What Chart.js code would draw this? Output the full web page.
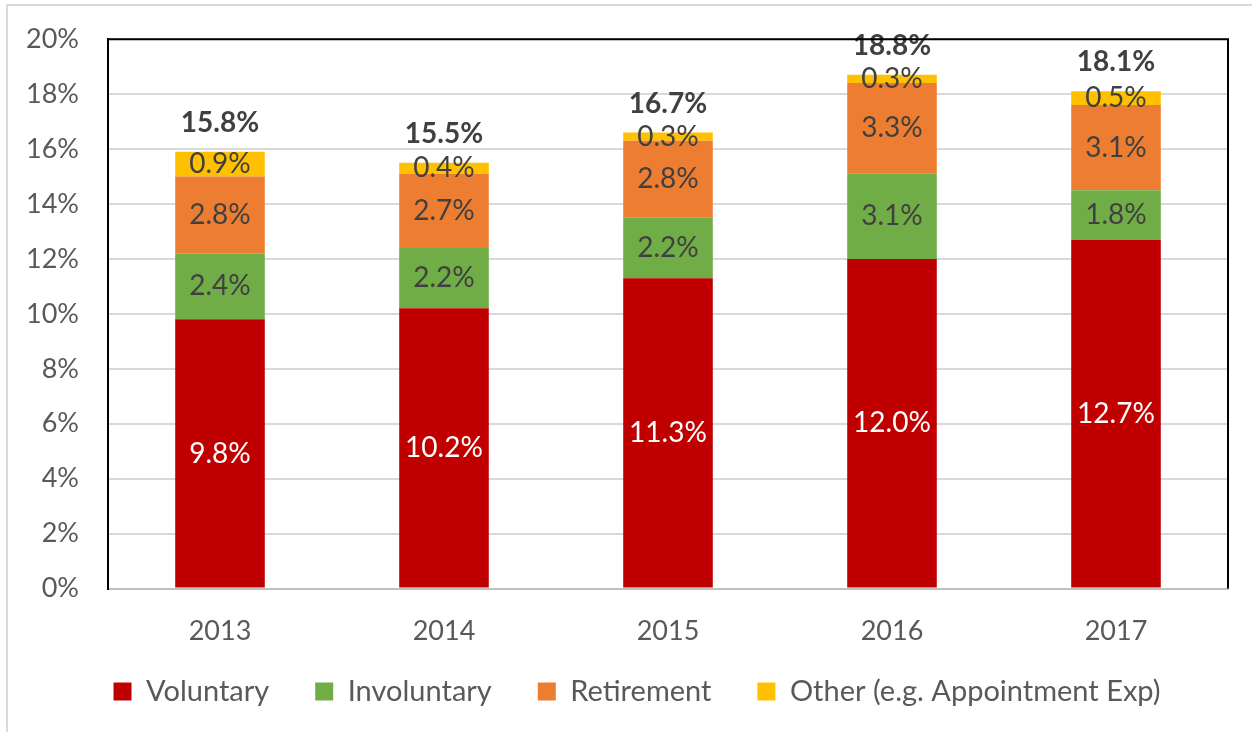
<!DOCTYPE html>
<html>
<head>
<meta charset="utf-8">
<script src="https://cdn.jsdelivr.net/npm/chart.js@4/dist/chart.umd.min.js"></script>
<style>
  html, body { margin: 0; padding: 0; background: #fff; }
  #wrap { width: 1252px; height: 732px; }
</style>
</head>
<body>
<div id="wrap"><canvas id="attritionChart" width="1252" height="732"></canvas></div>
<script>
const years = ['2013', '2014', '2015', '2016', '2017'];

const voluntary = [9.8, 10.2, 11.3, 12.0, 12.7];
const involuntary = [2.4, 2.2, 2.2, 3.1, 1.8];
const retirement = [2.8, 2.7, 2.8, 3.3, 3.1];
const other = [0.9, 0.4, 0.3, 0.3, 0.5];
const totals = [15.8, 15.5, 16.7, 18.8, 18.1];

const yTicks = [0, 2, 4, 6, 8, 10, 12, 14, 16, 18, 20];

const FONT = 'Lato, "Open Sans", sans-serif';

// segment labels + bold totals on top
const barLabels = {
  id: 'barLabels',
  afterDatasetsDraw(chart) {
    const ctx = chart.ctx;
    ctx.save();
    ctx.textAlign = 'center';
    ctx.textBaseline = 'middle';
    chart.data.datasets.forEach((ds, i) => {
      const meta = chart.getDatasetMeta(i);
      meta.data.forEach((bar, j) => {
        const mid = (bar.y + bar.base) / 2;
        ctx.font = '28px ' + FONT;
        ctx.fillStyle = i === 0 ? '#ffffff' : '#404040';
        ctx.fillText(ds.data[j].toFixed(1) + '%', bar.x, mid);
      });
    });
    const topMeta = chart.getDatasetMeta(chart.data.datasets.length - 1);
    topMeta.data.forEach((bar, j) => {
      ctx.font = 'bold 28px ' + FONT;
      ctx.fillStyle = '#404040';
      ctx.fillText(totals[j].toFixed(1) + '%', bar.x, bar.y - 29);
    });
    ctx.restore();
  }
};

// grey outer border, black frame round the plot, legend nudged into place
const frame = {
  id: 'frame',
  afterLayout(chart) {
    const lg = chart.legend;
    if (lg && !lg._nudged) {
      const draw = lg.draw.bind(lg);
      lg.draw = function () {
        chart.ctx.save();
        chart.ctx.translate(18, -34);
        draw();
        chart.ctx.restore();
      };
      lg._nudged = true;
    }
  },
  beforeDraw(chart) {
    const ctx = chart.ctx;
    ctx.save();
    ctx.fillStyle = '#fff';
    ctx.fillRect(0, 0, chart.width, chart.height);
    ctx.strokeStyle = '#d9d9d9';
    ctx.lineWidth = 2;
    ctx.beginPath();
    ctx.moveTo(7, chart.height);
    ctx.lineTo(7, 5);
    ctx.lineTo(chart.width, 5);
    ctx.stroke();
    ctx.restore();
  },
  afterDraw(chart) {
    const a = chart.chartArea;
    const ctx = chart.ctx;
    ctx.save();
    ctx.strokeStyle = '#000';
    ctx.lineWidth = 2;
    ctx.beginPath();
    ctx.moveTo(a.left, a.bottom);
    ctx.lineTo(a.left, a.top);
    ctx.lineTo(a.right, a.top);
    ctx.lineTo(a.right, a.bottom);
    ctx.stroke();
    ctx.restore();
  }
};

const ctx = document.getElementById('attritionChart').getContext('2d');

new Chart(ctx, {
  type: 'bar',
  data: {
    labels: years,
    datasets: [
      { label: 'Voluntary', data: voluntary, backgroundColor: '#c00000' },
      { label: 'Involuntary', data: involuntary, backgroundColor: '#70ad47' },
      { label: 'Retirement', data: retirement, backgroundColor: '#ed7d31' },
      { label: 'Other (e.g. Appointment Exp)', data: other, backgroundColor: '#ffc000' }
    ]
  },
  options: {
    responsive: false,
    animation: false,
    layout: { padding: { left: 10, right: 24, top: 30, bottom: -18 } },
    datasets: {
      bar: { categoryPercentage: 1, barPercentage: 0.4, borderWidth: 0 }
    },
    plugins: {
      tooltip: { enabled: false },
      legend: {
        position: 'bottom',
        labels: {
          color: '#595959',
          font: { family: FONT, size: 29 },
          boxWidth: 18,
          boxHeight: 18,
          padding: 46
        }
      }
    },
    scales: {
      x: {
        stacked: true,
        grid: { display: false },
        border: { color: '#bfbfbf', width: 2 },
        ticks: { color: '#595959', font: { family: FONT, size: 27 }, padding: 18 }
      },
      y: {
        stacked: true,
        min: 0,
        max: 20,
        afterFit: scale => { scale.width = 98; },
        afterBuildTicks: scale => { scale.ticks = yTicks.map(v => ({ value: v })); },
        grid: { color: '#d9d9d9', lineWidth: 2, drawTicks: false },
        border: { color: '#000', width: 2 },
        ticks: {
          color: '#595959',
          font: { family: FONT, size: 27, lineHeight: 0.75 },
          padding: 29,
          callback: v => v + '%'
        }
      }
    }
  },
  plugins: [frame, barLabels]
});
</script>
</body>
</html>
